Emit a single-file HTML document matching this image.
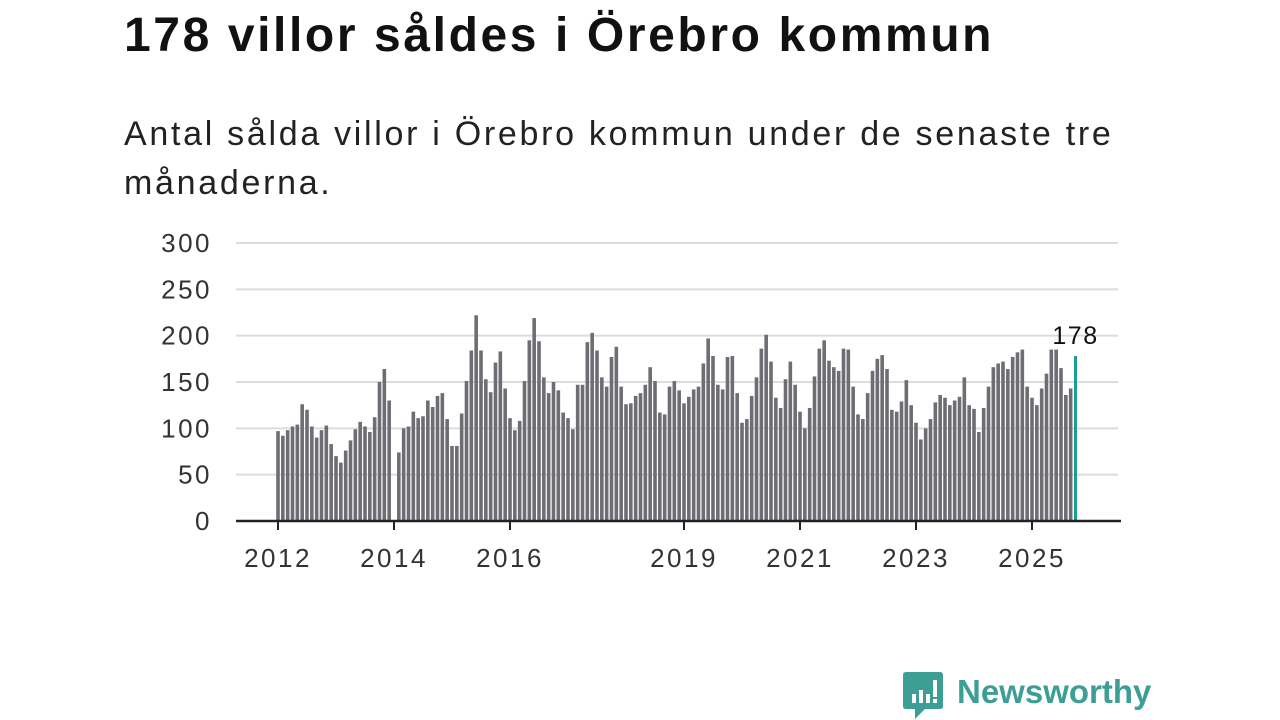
<!DOCTYPE html>
<html><head><meta charset="utf-8">
<style>
body{margin:0;width:1280px;height:720px;background:#fff;font-family:"Liberation Sans","DejaVu Sans",sans-serif;overflow:hidden;position:relative}
#title{position:absolute;left:124px;top:8px;font-size:48px;font-weight:bold;color:#111;margin:0;letter-spacing:2.6px;white-space:nowrap}
#subtitle{position:absolute;left:124px;top:110px;font-size:34px;line-height:49px;color:#222;margin:0;width:1100px;letter-spacing:2.7px;white-space:nowrap}
#chart{position:absolute;left:0;top:0}
#logo{position:absolute;left:903px;top:672px}
#brand{position:absolute;left:957px;top:673px;font-size:33px;font-weight:bold;color:#3d9e95}
</style></head><body>
<h1 id="title">178 villor såldes i Örebro kommun</h1>
<p id="subtitle">Antal sålda villor i Örebro kommun under de senaste tre<br>månaderna.</p>
<svg id="chart" width="1280" height="720"></svg>
<svg id="logo" width="40" height="48">
<path d="M3 0H37Q40 0 40 3V34Q40 37 37 37H22L12 47V37H3Q0 37 0 34V3Q0 0 3 0Z" fill="#3d9e95"/>
<rect x="9" y="22" width="4" height="9" fill="#fff"/><rect x="16" y="18" width="4" height="13" fill="#fff"/><rect x="23" y="22" width="4" height="9" fill="#fff"/><rect x="30" y="8" width="4" height="17" fill="#fff"/><rect x="30" y="27" width="4" height="4" fill="#fff"/>
</svg>
<div id="brand">Newsworthy</div>
<script>
const values = [
97,92,98,102,104,126,120,102,90,98,103,83,
70,63,76,87,99,107,102,96,112,150,164,130,
null,74,100,102,118,111,113,130,123,135,138,110,
81,81,116,151,184,222,184,153,139,171,183,143,
111,98,108,151,195,219,194,155,138,150,141,117,
111,99,147,147,193,203,184,155,145,177,188,145,
126,127,135,138,147,166,151,117,115,145,151,141,
127,134,142,145,170,197,178,147,142,177,178,138,
106,110,135,155,186,201,172,133,122,153,172,147,
118,100,122,156,186,195,173,166,162,186,185,145,
115,110,138,162,175,179,164,120,118,129,152,125,
106,88,100,110,128,136,133,125,130,134,155,125,
121,96,122,145,166,170,172,164,177,182,185,145,
133,125,143,159,185,185,165,136,143,178];
const yTicks = [0,50,100,150,200,250,300];
const xTickYears = [2012,2014,2016,2019,2021,2023,2025];
const startYear = 2012;
const svg = document.getElementById('chart');
const NS='http://www.w3.org/2000/svg';
const x0=278, monthW=58/12, y0=521, pxPerUnit=278/300;
const xScale = m => x0 + m*monthW;
const yScale = v => y0 - v*pxPerUnit;
function mk(t,a){const e=document.createElementNS(NS,t);for(const k in a)e.setAttribute(k,a[k]);svg.appendChild(e);return e;}
yTicks.forEach(v=>{
  if(v>0){const g=mk('line',{x1:236,x2:1118,y1:yScale(v),y2:yScale(v),stroke:'#dcdcdc','stroke-width':2});
  
  }
  const t=mk('text',{x:212,y:yScale(v)+9,'text-anchor':'end','font-size':26,'letter-spacing':2.5,fill:'#333','font-family':'Liberation Sans, sans-serif'});
  t.textContent=v;
  
  
});
values.forEach((v,i)=>{
  if(v===null)return;
  const last=i===values.length-1;
  const cx=xScale(i);
  const r=mk('rect',{x:cx-(last?1.5:1.8),y:yScale(v),width:last?3:3.6,height:y0-yScale(v),fill:last?'#1a9e95':'#6e6d73'});
  
  
  if(last){const t=mk('text',{x:cx,y:yScale(v)-12,'text-anchor':'middle','font-size':25,'letter-spacing':1.5,fill:'#111','font-family':'Liberation Sans, sans-serif'});
  t.textContent=v;
  
  }
});
const ax=mk('line',{x1:236,x2:1121,y1:y0,y2:y0,stroke:'#222','stroke-width':2.5});


xTickYears.forEach(yr=>{
  const x=xScale((yr-startYear)*12);
  const l=mk('line',{x1:x,x2:x,y1:y0,y2:y0+9,stroke:'#222','stroke-width':2});
  
  
  const t=mk('text',{x:x,y:567,'text-anchor':'middle','font-size':26,'letter-spacing':2.5,fill:'#333','font-family':'Liberation Sans, sans-serif'});
  t.textContent=yr;
  
  
});
</script>
</body></html>
